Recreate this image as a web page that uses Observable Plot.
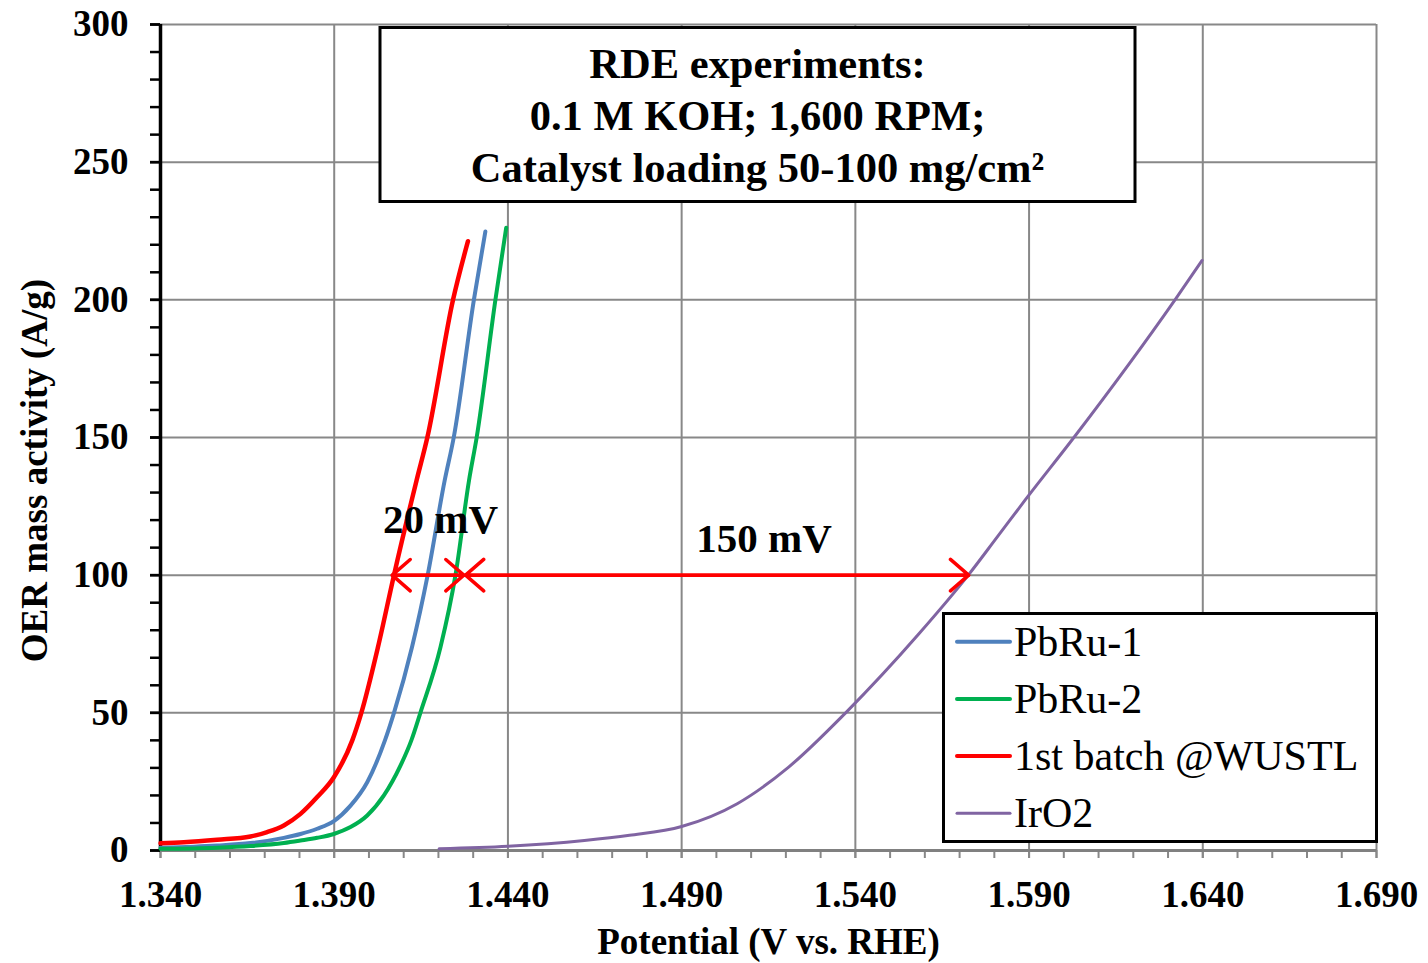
<!DOCTYPE html>
<html>
<head>
<meta charset="utf-8">
<script src="https://cdn.jsdelivr.net/npm/d3@7"></script>
<script src="https://cdn.jsdelivr.net/npm/@observablehq/plot@0.6"></script>
<style>
  html, body { margin: 0; padding: 0; background: #fff; }
  #chart { width: 1428px; height: 963px; }
</style>
</head>
<body>
<div id="chart"></div>
<script>
// ---- data: [potential (V vs RHE), mass activity (A/g)] ----
const pbru1 = [
  [1.3400, 1.0], [1.3563, 1.8], [1.3659, 2.7], [1.3755, 4.6], [1.3803, 6.0],
  [1.3851, 7.9], [1.3899, 10.7], [1.3947, 16.3], [1.3995, 24.8], [1.4046, 40],
  [1.4072, 50], [1.4124, 73.9], [1.4169, 100], [1.4218, 134.4], [1.4244, 150],
  [1.4302, 200], [1.4335, 224.8]
];
const pbru2 = [
  [1.3400, 0.6], [1.3563, 1.0], [1.3659, 1.6], [1.3755, 2.7], [1.3803, 3.6],
  [1.3851, 4.6], [1.3899, 6.0], [1.3947, 8.5], [1.3995, 12.7], [1.4043, 20.0],
  [1.4091, 30.9], [1.4122, 40], [1.4148, 50], [1.4206, 73.9], [1.4249, 100],
  [1.4288, 134.4], [1.4310, 150], [1.4364, 200], [1.4395, 226.2]
];
const wustl = [
  [1.3400, 2.65], [1.3467, 3.0], [1.3563, 3.9], [1.3659, 5.1], [1.3707, 6.7],
  [1.3755, 9.1], [1.3803, 13.3], [1.3851, 19.4], [1.3899, 26.6], [1.3952, 40],
  [1.3978, 50], [1.4026, 73.9], [1.4072, 100], [1.4137, 134.4], [1.4168, 150],
  [1.4242, 200], [1.4285, 221.3]
];
const iro2 = [
  [1.4202, 0.6], [1.4400, 1.5], [1.4620, 3.6], [1.4750, 5.5], [1.4900, 8.7],
  [1.5060, 17], [1.5208, 30.3], [1.5372, 50], [1.5583, 78.7], [1.5725, 100],
  [1.5808, 113.8], [1.5890, 127.5], [1.6029, 150], [1.6320, 200], [1.6398, 214.3]
];

const seriesNames = ["PbRu-1", "PbRu-2", "1st batch @WUSTL", "IrO2"];
const seriesData = [pbru1, pbru2, wustl, iro2];
const seriesColors = ["#4F81BD", "#00B050", "#FF0000", "#8064A2"];

const xTicks = [1.340, 1.390, 1.440, 1.490, 1.540, 1.590, 1.640, 1.690];
const yTicks = [0, 50, 100, 150, 200, 250, 300];
const xMinorTicks = d3.range(134, 170).map(d => d / 100);
const yMinorTicks = d3.range(0, 301, 10);

// overpotential comparison arrows at 100 A/g
const arrows = [
  {x1: 1.4067, x2: 1.4273, y: 100},
  {x1: 1.4278, x2: 1.5726, y: 100}
];
const arrowLabels = [
  {x: 1.4206, y: 120, text: "20 mV"},
  {x: 1.5137, y: 113, text: "150 mV"}
];

const boxLines = ["RDE experiments:", "0.1 M KOH; 1,600 RPM;", "Catalyst loading 50-100 mg/cm²"];
const xTitle = "Potential (V vs. RHE)";
const yTitle = "OER mass activity (A/g)";

const FONT = "'Liberation Serif', 'Times New Roman', serif";
const GRID = "#888888";

const lineWidths = [4, 4, 4.5, 3];

const chart = Plot.plot({
  width: 1428,
  height: 963,
  marginLeft: 160,
  marginRight: 52,
  marginTop: 24,
  marginBottom: 113,
  x: {domain: [1.34, 1.69]},
  y: {domain: [0, 300]},
  style: {fontFamily: FONT, background: "white", color: "black"},
  marks: [
    Plot.gridX({ticks: xTicks, stroke: GRID, strokeOpacity: 1, strokeWidth: 2}),
    Plot.gridY({ticks: yTicks, stroke: GRID, strokeOpacity: 1, strokeWidth: 2}),
    Plot.axisX({ticks: xMinorTicks, tickSize: 8, stroke: GRID, strokeWidth: 2, tickFormat: () => "", label: null}),
    Plot.axisX({ticks: xTicks, tickSize: 8, tickPadding: 22, stroke: GRID, strokeWidth: 2, fill: "black",
      tickFormat: d3.format(".3f"), fontSize: 37, fontWeight: "bold", label: null}),
    Plot.ruleY([0], {stroke: "#808080", strokeWidth: 3}),
    Plot.axisY({ticks: yMinorTicks, tickSize: 10, stroke: "black", strokeWidth: 2.5, tickFormat: () => "", label: null}),
    Plot.axisY({ticks: yTicks, tickSize: 10, tickPadding: 22, stroke: "black", strokeWidth: 2.5, fill: "black",
      tickFormat: d3.format("d"), fontSize: 37, fontWeight: "bold", label: null}),
    Plot.ruleX([1.34], {stroke: "black", strokeWidth: 3.5}),
    ...seriesData.map((s, i) => Plot.line(s, {
      x: d => d[0], y: d => d[1], stroke: seriesColors[i], strokeWidth: lineWidths[i],
      curve: "monotone-x", strokeLinecap: "round"
    })),
    Plot.arrow(arrows, {x1: "x1", x2: "x2", y1: "y", y2: "y", stroke: "#FF0000", strokeWidth: 3.5,
      headLength: 10.3, headAngle: 82, strokeLinecap: "round"}),
    Plot.arrow(arrows, {x1: "x2", x2: "x1", y1: "y", y2: "y", stroke: "#FF0000", strokeWidth: 3.5,
      headLength: 10.3, headAngle: 82, strokeLinecap: "round"}),
    Plot.text(arrowLabels, {x: "x", y: "y", text: "text", fontSize: 41, fontWeight: "bold", fill: "black"}),
    Plot.text([xTitle], {frameAnchor: "bottom", lineAnchor: "middle", textAnchor: "middle", dy: 92,
      fontSize: 37, fontWeight: "bold", fill: "black"}),
    Plot.text([yTitle], {frameAnchor: "left", lineAnchor: "middle", textAnchor: "middle", rotate: -90,
      dx: -125, dy: 33, fontSize: 37, fontWeight: "bold", fill: "black"})
  ]
});

document.getElementById("chart").appendChild(chart);

// ---- annotation box ----
const svg = d3.select(chart);
const box = svg.append("g").attr("font-family", FONT);
box.append("rect")
  .attr("x", 380).attr("y", 27.5).attr("width", 755).attr("height", 174)
  .attr("fill", "white").attr("stroke", "black").attr("stroke-width", 3);
boxLines.forEach((t, i) => {
  box.append("text")
    .attr("x", 757.5).attr("y", 78.3 + i * 51.7)
    .attr("text-anchor", "middle")
    .attr("font-size", 42.5).attr("font-weight", "bold").attr("fill", "black")
    .text(t);
});

// ---- legend ----
const leg = svg.append("g").attr("font-family", FONT);
leg.append("rect")
  .attr("x", 943.5).attr("y", 613.5).attr("width", 433).attr("height", 228)
  .attr("fill", "white").attr("stroke", "black").attr("stroke-width", 3);
seriesNames.forEach((name, i) => {
  const yy = 641.7 + i * 57.2;
  leg.append("line")
    .attr("x1", 957).attr("x2", 1010).attr("y1", yy).attr("y2", yy)
    .attr("stroke", seriesColors[i]).attr("stroke-width", i === 3 ? 3 : 4)
    .attr("stroke-linecap", "round");
  leg.append("text")
    .attr("x", 1014).attr("y", yy + 14)
    .attr("text-anchor", "start")
    .attr("font-size", 42).attr("fill", "black")
    .text(name);
});
</script>
</body>
</html>
